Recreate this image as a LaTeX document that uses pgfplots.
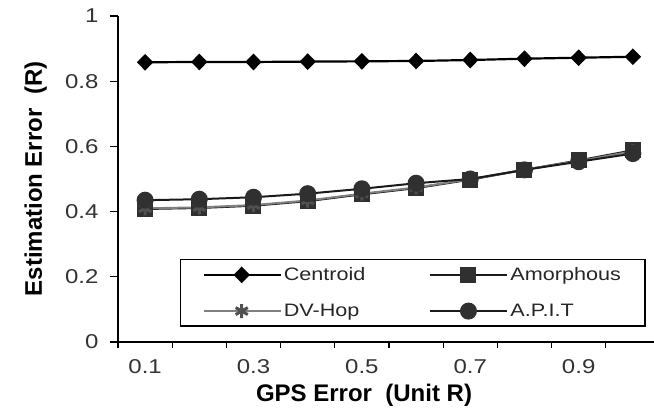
\documentclass[border=0pt]{standalone}
\usepackage{pgfplots}
\pgfplotsset{compat=1.18}
\usepackage{fontspec}
\setmainfont{Liberation Sans}
\newfontfamily\tickfont{Liberation Sans}[FakeStretch=1.2]
\definecolor{dk}{HTML}{1A1A1A}
\definecolor{mk}{HTML}{303030}
\definecolor{gl}{HTML}{808080}
\definecolor{gm}{HTML}{505050}
\begin{document}
\begin{tikzpicture}
\begin{axis}[
  at={(0,0)}, anchor=south west,
  scale only axis, width=536pt, height=326pt,
  xmin=0.5, xmax=10.39, ymin=0, ymax=1,
  axis x line=bottom, axis y line=left,
  axis line style={-, line width=1.2pt, black},
  clip=false,
  xtick={1,3,5,7,9}, xticklabels={0.1,0.3,0.5,0.7,0.9},
  minor xtick={0.5,1.5,...,9.5},
  major x tick style={draw=none},
  ytick={0,0.2,0.4,0.6,0.8,1},
  yticklabels={0,0.2,0.4,0.6,0.8,1},
  tick align=outside,
  major tick length=8pt, minor tick length=6pt,
  tick style={line width=1.2pt, black},
  every tick label/.append style={font=\tickfont\fontsize{20}{24}\selectfont, text=black!80},
  yticklabel style={xshift=-8pt},
  xticklabel style={yshift=-6pt},
  xlabel={GPS Error\ \ (Unit R)},
  ylabel={Estimation Error\ \ (R)},
  label style={font=\bfseries\fontsize{24}{28}\selectfont},
  xlabel style={at={(axis description cs:0.459,-0.184)}, anchor=base},
  ylabel style={at={(axis description cs:-0.1418,0.5)}, anchor=base, rotate=0},
  legend columns=2,
  legend cell align=left,
  legend image code/.code={\draw[mark repeat=2,mark phase=2] plot coordinates {(0pt,0pt) (38pt,0pt) (77pt,0pt)};},
  legend style={at={(axis description cs:0.1157,0.2546)}, anchor=north west,
    draw=black, line width=1.2pt, inner xsep=22pt, inner ysep=6pt,
    font=\tickfont\fontsize{18}{21}\selectfont, text=black!85,
    /tikz/row sep=18pt,
    /tikz/every even column/.append style={column sep=62pt}},
]
\addplot[black, line width=2.2pt, mark=diamond*, mark size=6.8pt, mark options={xscale=1.3, solid, fill=black}]
  coordinates {(1,0.858) (2,0.859) (3,0.859) (4,0.860) (5,0.861) (6,0.862) (7,0.865) (8,0.869) (9,0.872) (10,0.875)};
\addlegendentry{Centroid}
\addplot[dk, line width=2pt, mark=square*, mark size=7pt, mark options={fill=mk, draw=mk}]
  coordinates {(1,0.408) (2,0.411) (3,0.418) (4,0.432) (5,0.453) (6,0.472) (7,0.498) (8,0.528) (9,0.557) (10,0.588)};
\addlegendentry{Amorphous}
\addplot[gl, line width=2pt, mark=asterisk, mark size=7pt, mark options={draw=gm, line width=3pt}]
  coordinates {(1,0.410) (2,0.413) (3,0.420) (4,0.434) (5,0.455) (6,0.474) (7,0.499) (8,0.529) (9,0.555) (10,0.585)};
\addlegendentry{DV-Hop}
\addplot[dk, line width=2pt, mark=*, mark size=7.5pt, mark options={fill=mk, draw=mk}]
  coordinates {(1,0.435) (2,0.438) (3,0.444) (4,0.455) (5,0.470) (6,0.487) (7,0.500) (8,0.528) (9,0.553) (10,0.578)};
\addlegendentry{A.P.I.T}
\end{axis}
\pgfresetboundingbox
\path[use as bounding box] (-118pt,-70pt) rectangle (536pt,342pt);
\end{tikzpicture}
\end{document}
